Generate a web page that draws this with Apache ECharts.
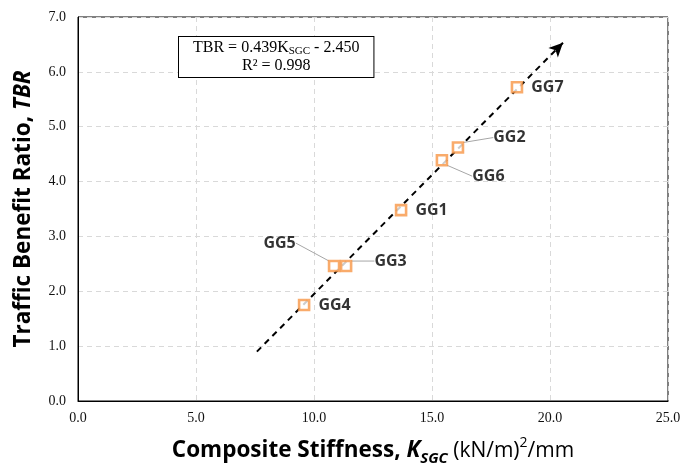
<!DOCTYPE html>
<html><head><meta charset="utf-8">
<script src="https://cdn.jsdelivr.net/npm/echarts@6/dist/echarts.min.js"></script>
<style>html,body{margin:0;padding:0;background:#fff}#c{width:688px;height:471px}</style>
</head><body><div id="c"></div>
<script>
const names = ['GG1','GG2','GG3','GG4','GG5','GG6','GG7'];
const kSGC  = [13.69, 16.10, 11.36, 9.58, 10.85, 15.42, 18.60];
const tbr   = [3.48, 4.62, 2.46, 1.75, 2.46, 4.39, 5.72];
const fitX = [7.58, 20.55];
const fitY = [0.90, 6.53];
const xTicks = [0, 5, 10, 15, 20, 25];
const yTicks = [0, 1, 2, 3, 4, 5, 6, 7];

// label placement (pixel offsets, style only)
const labelPos = {
  GG1: {pos:'right', dx:0, dy:0, line:false},
  GG2: {pos:'right', dx:21, dy:-10, line:true},
  GG3: {pos:'right', dx:14, dy:-5, line:true},
  GG4: {pos:'right', dx:0, dy:0, line:false},
  GG5: {pos:'left', dx:-24, dy:-23, line:true},
  GG6: {pos:'right', dx:16, dy:16, line:true},
  GG7: {pos:'right', dx:0, dy:0, line:false}
};

const chart = echarts.init(document.getElementById('c'));
const sans = 'Open Sans';
const serif = 'Liberation Serif';
const pts = names.map((n,i)=>({
  name:n, value:[kSGC[i], tbr[i]],
  label:{position:labelPos[n].pos},
  labelLine:{show:labelPos[n].line}
}));

chart.setOption({
  animation:false,
  grid:{left:78, right:20, top:17, bottom:67, show:true, borderColor:'#000', borderWidth:1, backgroundColor:'transparent'},
  xAxis:{type:'value', min:xTicks[0], max:xTicks[xTicks.length-1], interval:5,
    axisLine:{show:true, lineStyle:{color:'#000', width:1}}, axisTick:{show:false},
    splitLine:{show:true, lineStyle:{color:'#d9d9d9', type:[5,4]}},
    axisLabel:{fontFamily:serif, fontSize:14, color:'#111', margin:10, formatter:v=>v.toFixed(1)},
    name:'{b|Composite Stiffness, }{bi|K}{bis|SGC}{r| (kN/m)}{sup|2}{r|/mm}',
    nameLocation:'middle', nameGap:35,
    nameTextStyle:{rich:{
      b:{fontFamily:sans, fontWeight:'bold', fontSize:22.5, color:'#000', lineHeight:30},
      bi:{fontFamily:sans, fontWeight:'bold', fontStyle:'italic', fontSize:22.5, color:'#000', lineHeight:30},
      bis:{fontFamily:sans, fontWeight:'bold', fontStyle:'italic', fontSize:15, color:'#000', lineHeight:30, verticalAlign:'bottom', padding:[8,0,0,0]},
      r:{fontFamily:sans, fontSize:21, color:'#000', lineHeight:30},
      sup:{fontFamily:sans, fontSize:14, color:'#000', lineHeight:30, verticalAlign:'top', padding:[0,0,8,0]}
    }}
  },
  yAxis:{type:'value', min:yTicks[0], max:yTicks[yTicks.length-1], interval:1,
    axisLine:{show:true, lineStyle:{color:'#000', width:1}}, axisTick:{show:false},
    splitLine:{show:true, lineStyle:{color:'#d9d9d9', type:[5,4]}},
    axisLabel:{fontFamily:serif, fontSize:14, color:'#111', margin:12, formatter:v=>v.toFixed(1)},
    name:'{b|Traffic Benefit Ratio, }{bi|TBR}',
    nameLocation:'middle', nameGap:43, nameRotate:90,
    nameTextStyle:{rich:{
      b:{fontFamily:sans, fontWeight:'bold', fontSize:22.5, color:'#000'},
      bi:{fontFamily:sans, fontWeight:'bold', fontStyle:'italic', fontSize:22.5, color:'#000'}
    }}
  },
  graphic:[{
    type:'text', left:178, top:36, z:100,
    style:{
      text:'{t|TBR = 0.439K}{s|SGC}{t| - 2.450}\n{t|R² = 0.998}',
      align:'center',
      backgroundColor:'#fff', borderColor:'#000', borderWidth:1, padding:[2,14,2,14],
      rich:{
        t:{fontFamily:serif, fontSize:16, color:'#000', lineHeight:18, align:'center'},
        s:{fontFamily:serif, fontSize:11, color:'#000', lineHeight:18, verticalAlign:'bottom', padding:[5,0,0,0]}
      }
    }
  }],
  series:[
    {type:'line', data:[], markLine:{silent:true, symbol:['none','arrow'], symbolSize:[10,14],
      label:{show:false},
      lineStyle:{color:'#000', width:2, type:[6,5]},
      data:[[{coord:[fitX[0], fitY[0]]},{coord:[fitX[1], fitY[1]]}]]}},
    {type:'scatter', data:pts, symbol:'rect', symbolSize:10,
      itemStyle:{color:'#fff', borderColor:'#F79646', borderWidth:2.6},
      label:{show:true, formatter:'{b}', fontFamily:sans, fontWeight:'bold', fontSize:16, color:'#000', distance:8},
      labelLine:{lineStyle:{color:'#a6a6a6', width:1}},
      labelLayout:function(p){
        const o = labelPos[names[p.dataIndex]];
        return {dx:o.dx, dy:o.dy};
      },
      z:5
    }
  ]
});
</script></body></html>
